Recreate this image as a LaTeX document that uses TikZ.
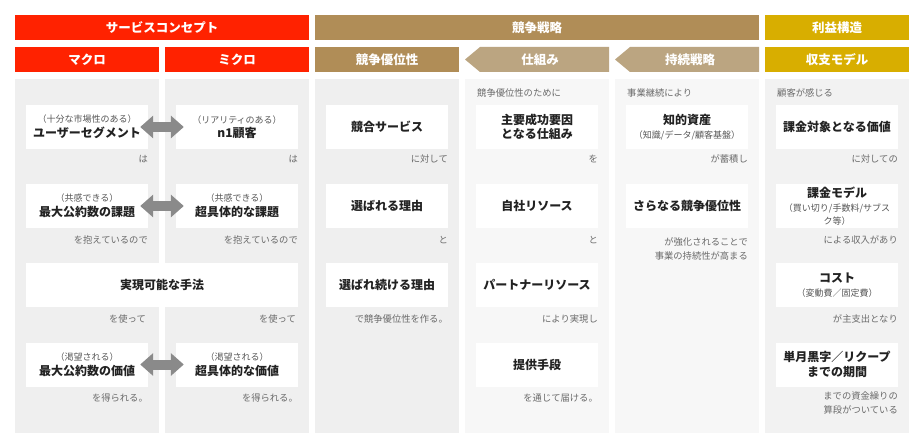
\documentclass[tikz,border=0pt]{standalone}
\usepackage{fontspec}
\setmainfont{Noto Sans CJK JP}
\usetikzlibrary{arrows.meta}
\definecolor{cred}{HTML}{FF2200}
\definecolor{ctan}{HTML}{B08D57}
\definecolor{cltan}{HTML}{BBA581}
\definecolor{cyel}{HTML}{D8AE00}
\definecolor{panA}{HTML}{EFEFEF}
\definecolor{panB}{HTML}{F7F7F7}
\definecolor{panC}{HTML}{F2F2F2}
\definecolor{txtmain}{HTML}{222222}
\definecolor{txtsub}{HTML}{555555}
\definecolor{txtnote}{HTML}{6A6A6A}
\definecolor{arrgray}{HTML}{8A8A8A}
\tikzset{
  hdrtext/.style={text=white,font=\bfseries\fontsize{12.5}{14}\selectfont,inner sep=0},
  wbox/.style={fill=white,minimum width=122pt,minimum height=44pt,inner sep=1pt,align=center,
    text=txtmain,font=\bfseries\fontsize{12}{14.5}\selectfont},
  notetext/.style={text=txtnote,font=\fontsize{9.3}{13.5}\selectfont,inner sep=0,anchor=east,align=right},
  toptext/.style={text=txtnote,font=\fontsize{9.3}{11}\selectfont,inner sep=0,anchor=west},
  dblarrow/.style={draw=arrgray,line width=10pt,{Triangle[width=22pt,length=13pt]}-{Triangle[width=22pt,length=13pt]}},
}
\newcommand{\subt}[1]{{\mdseries\color{txtsub}\fontsize{9}{11.5}\selectfont #1}}
\begin{document}
\begin{tikzpicture}[x=1pt,y=-1pt]
\useasboundingbox (0,0) rectangle (923,446);
\fill[white] (0,0) rectangle (923,446);
% top headers
\fill[cred] (15,15) rectangle (309,40);
\node[hdrtext] (h1) at (162,27.5) {サービスコンセプト};
\fill[ctan] (315,15) rectangle (759,40);
\node[hdrtext] (h2) at (537,27.5) {競争戦略};
\fill[cyel] (765,15) rectangle (909,40);
\node[hdrtext] (h3) at (837,27.5) {利益構造};
% second headers
\fill[cred] (15,47) rectangle (159,72);
\node[hdrtext] (s1) at (87,59.5) {マクロ};
\fill[cred] (165,47) rectangle (309,72);
\node[hdrtext] (s2) at (237,59.5) {ミクロ};
\fill[ctan] (315,47) rectangle (459,72);
\node[hdrtext] (s3) at (387,59.5) {競争優位性};
\fill[cltan] (609,47) -- (480,47) -- (465,59.5) -- (480,72) -- (609,72) -- cycle;
\node[hdrtext] (s4) at (540,59.5) {仕組み};
\fill[cltan] (759,47) -- (630,47) -- (615,59.5) -- (630,72) -- (759,72) -- cycle;
\node[hdrtext] (s5) at (690,59.5) {持続戦略};
\fill[cyel] (765,47) rectangle (909,72);
\node[hdrtext] (s6) at (837,59.5) {収支モデル};
% panels
\fill[panA] (15,79) rectangle (159,433);
\fill[panA] (165,79) rectangle (309,433);
\fill[panA] (315,79) rectangle (459,433);
\fill[panB] (465,79) rectangle (609,433);
\fill[panB] (615,79) rectangle (759,433);
\fill[panC] (765,79) rectangle (909,433);
% column 1
\node[wbox] (a1) at (87,127) {\subt{（十分な市場性のある）}\\ユーザーセグメント};
\node[notetext] (na1) at (148,159) {は};
\node[wbox] (a2) at (87,206) {\subt{（共感できる）}\\最大公約数の課題};
\node[notetext] (na2) at (148,240) {を抱えているので};
\node[wbox,minimum width=272pt] (a3) at (162,285) {実現可能な手法};
\node[notetext] (na3) at (146,319) {を使って};
\node[wbox] (a4) at (87,364.5) {\subt{（渇望される）}\\最大公約数の価値};
\node[notetext] (na4) at (148,398) {を得られる。};
% column 2
\node[wbox] (b1) at (237,127) {\subt{（リアリティのある）}\\n1顧客};
\node[notetext] (nb1) at (298,159) {は};
\node[wbox] (b2) at (237,206) {\subt{（共感できる）}\\超具体的な課題};
\node[notetext] (nb2) at (298,240) {を抱えているので};
\node[notetext] (nb3) at (296,319) {を使って};
\node[wbox] (b4) at (237,364.5) {\subt{（渇望される）}\\超具体的な価値};
\node[notetext] (nb4) at (298,398) {を得られる。};
% arrows
\draw[dblarrow] ([xshift=-8pt]a1.east) -- ([xshift=8pt]b1.west);
\draw[dblarrow] ([xshift=-8pt]a2.east) -- ([xshift=8pt]b2.west);
\draw[dblarrow] ([xshift=-8pt]a4.east) -- ([xshift=8pt]b4.west);
% column 3
\node[wbox] (c1) at (387,127) {競合サービス};
\node[notetext] (nc1) at (448,159) {に対して};
\node[wbox] (c2) at (387,206) {選ばれる理由};
\node[notetext] (nc2) at (448,240) {と};
\node[wbox] (c3) at (387,285) {選ばれ続ける理由};
\node[notetext] (nc3) at (448,319) {で競争優位性を作る。};
% column 4
\node[toptext] (t4) at (477,93) {競争優位性のために};
\node[wbox] (d1) at (537,127) {主要成功要因\\となる仕組み};
\node[notetext] (nd1) at (598,159) {を};
\node[wbox] (d2) at (537,206) {自社リソース};
\node[notetext] (nd2) at (598,240) {と};
\node[wbox] (d3) at (537,285) {パートナーリソース};
\node[notetext] (nd3) at (598,319) {により実現し};
\node[wbox] (d4) at (537,364.5) {提供手段};
\node[notetext] (nd4) at (598,398) {を通じて届ける。};
% column 5
\node[toptext] (t5) at (627,93) {事業継続により};
\node[wbox] (e1) at (687,127) {知的資産\\\subt{（知識/データ/顧客基盤）}};
\node[notetext] (ne1) at (748,159) {が蓄積し};
\node[wbox] (e2) at (687,206) {さらなる競争優位性};
\node[notetext] (ne2) at (748,249) {が強化されることで\\事業の持続性が高まる};
% column 6
\node[toptext] (t6) at (777,93) {顧客が感じる};
\node[wbox] (f1) at (837,127) {課金対象となる価値};
\node[notetext] (nf1) at (898,159) {に対しての};
\node[wbox] (f2) at (837,206) {課金モデル\\\subt{（買い切り/手数料/サブス}\\[-2pt]\subt{ク等）}};
\node[notetext] (nf2) at (898,240) {による収入があり};
\node[wbox] (f3) at (837,285) {コスト\\\subt{（変動費／固定費）}};
\node[notetext] (nf3) at (898,319) {が主支出となり};
\node[wbox] (f4) at (837,364.5) {単月黒字／リクープ\\までの期間};
\node[notetext] (nf4) at (898,403) {までの資金繰りの\\算段がついている};
\end{tikzpicture}
\end{document}
